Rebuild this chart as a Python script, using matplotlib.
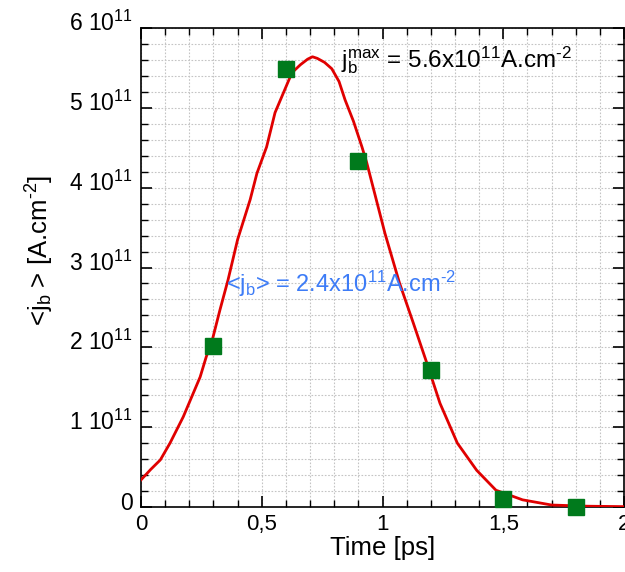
import matplotlib
matplotlib.use('Agg')
import matplotlib.pyplot as plt
import matplotlib.transforms as mtransforms
from matplotlib.ticker import MultipleLocator, FuncFormatter

plt.rcParams['font.family'] = ['Liberation Sans', 'DejaVu Sans']
plt.rcParams['mathtext.fontset'] = 'custom'
plt.rcParams['mathtext.rm'] = 'Liberation Sans'
plt.rcParams['mathtext.it'] = 'Liberation Sans'
plt.rcParams['mathtext.default'] = 'regular'

# simulated beam current density (units of 1e11 A/cm2)
curve_t = [0, 0.04, 0.08, 0.12, 0.175, 0.21, 0.245, 0.27, 0.295, 0.327, 0.36,
           0.40, 0.452, 0.48, 0.52, 0.555, 0.59, 0.625, 0.66, 0.69, 0.71, 0.73,
           0.76, 0.79, 0.82, 0.845, 0.88, 0.915, 0.935, 0.97, 1.01, 1.07,
           1.127, 1.184, 1.238, 1.31, 1.39, 1.47, 1.58, 1.70, 1.85, 2.0]
curve_j = [0.34, 0.47, 0.59, 0.80, 1.13, 1.38, 1.63, 1.88, 2.09, 2.47, 2.84,
           3.35, 3.85, 4.18, 4.51, 4.94, 5.19, 5.44, 5.54, 5.61, 5.64, 5.62,
           5.57, 5.49, 5.33, 5.10, 4.83, 4.51, 4.31, 3.90, 3.43, 2.81,
           2.31, 1.80, 1.30, 0.80, 0.46, 0.21, 0.09, 0.025, 0.01, 0.005]

# sampled points
pts_t = [0.3, 0.6, 0.9, 1.2, 1.5, 1.8]
pts_j = [2.02, 5.49, 4.34, 1.72, 0.10, 0.0]

scale = 1e11
HY = '\u2010'  # plain hyphen look for the exponent

fig = plt.figure(figsize=(6.25, 5.72), dpi=100)
ax = fig.add_axes([0.2256, 0.1136, 0.7728, 0.8374])

ax.plot(curve_t, [v * scale for v in curve_j], color='#e00000', lw=2, zorder=3)
ax.plot(pts_t, [v * scale for v in pts_j], 's', color='#007a1c', ms=11.5,
        clip_on=False, zorder=4)

ax.set_xlim(0, 2)
ax.set_ylim(0, 6e11)
ax.xaxis.set_major_locator(MultipleLocator(0.5))
ax.xaxis.set_minor_locator(MultipleLocator(0.1))
ax.yaxis.set_major_locator(MultipleLocator(1e11))
ax.yaxis.set_minor_locator(MultipleLocator(0.2e11))

ax.xaxis.set_major_formatter(FuncFormatter(
    lambda v, p: ('%g' % v).replace('.', ',')))
ax.yaxis.set_major_formatter(FuncFormatter(
    lambda v, p: '0' if v == 0 else r'%d 10$^{11}$' % round(v / scale)))

ax.tick_params(which='both', direction='in', top=True, right=True)
ax.tick_params(which='major', length=8, width=1.2)
ax.tick_params(which='minor', length=5, width=1)
ax.tick_params(axis='x', labelsize=16, pad=5)
ax.tick_params(axis='y', labelsize=16.5, pad=6)
shift = mtransforms.ScaledTranslation(0, -3 / 100, fig.dpi_scale_trans)
for lab in ax.get_yticklabels():
    lab.set_verticalalignment('baseline')
    lab.set_transform(lab.get_transform() + shift)

ax.grid(which='both', color='#c4c4c4', ls=(0, (1.5, 1.5)), lw=0.8)
ax.set_axisbelow(True)
for s in ax.spines.values():
    s.set_linewidth(1.2)

ax.set_xlabel('Time [ps]', fontsize=18.5, labelpad=1)
ax.set_ylabel(r'<j$_b$ > [A.cm$^{' + HY + '2}$]', fontsize=18.5)
ax.yaxis.set_label_coords(-0.175, 0.535)

ax.text(0.83, 5.6e11, r'j$_b^{max}$ = 5.6x10$^{11}$A.cm$^{' + HY + '2}$',
        fontsize=17.5, va='center', ha='left')
ax.text(0.35, 2.8e11, r'<j$_b$> = 2.4x10$^{11}$A.cm$^{' + HY + '2}$',
        fontsize=17, color='#3d7cf7', va='center', ha='left')

fig.savefig('out.png', dpi=100)
